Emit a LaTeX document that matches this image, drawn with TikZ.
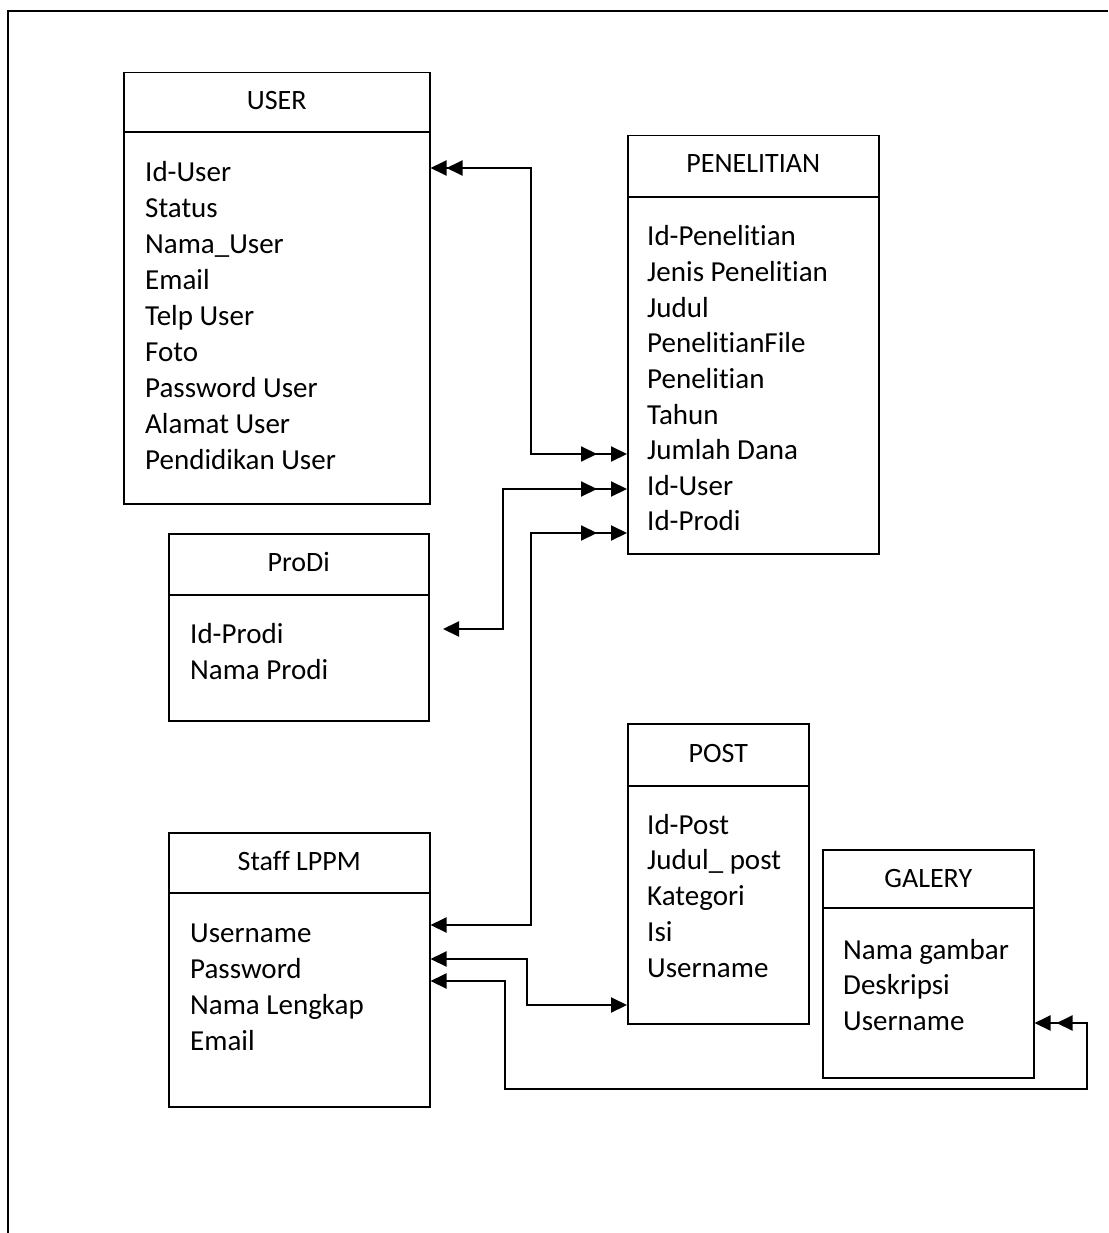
\documentclass[tikz,border=0pt]{standalone}
\usepackage{fontspec}
\setmainfont{Carlito}[Ligatures={NoCommon,NoContextual,NoRequired},Contextuals=NoAlternate]
\usetikzlibrary{arrows.meta,calc,decorations.markings}
\tikzset{ertip/.tip={Triangle[length=16pt,width=15pt]}}
\newcommand\nolig{\kern0pt\relax}
\begin{document}
\begin{tikzpicture}[x=1pt,y=-1pt,
 ent/.style={draw,line width=1.5pt,inner sep=0pt,anchor=north west},
 sep/.style={line width=1.5pt},
 ttl/.style={anchor=base,inner sep=0pt,font=\fontsize{28}{34}\selectfont},
 attr/.style={anchor=base west,inner sep=0pt,font=\fontsize{29}{36}\selectfont},
 conn/.style={line width=2pt}]
\useasboundingbox (0,0) rectangle (1108,1233);
\draw[line width=2pt] (1108,11) -- (8,11) -- (8,1233);

% USER
\node[ent,minimum width=306pt,minimum height=431pt] (user) at (123,72) {};
\draw[sep] ($(user.north west)+(0,60)$) -- ($(user.north east)+(0,60)$);
\node[ttl] (user-t) at ($(user.north)+(0,38)$) {USER};
\foreach \t [count=\i from 0] in {Id-User,Status,Nama\_User,Email,Telp User,Foto,Password User,Alamat User,Pendidikan User}
  \node[attr] (user-\i) at ($(user.north west)+(22,110+35.9*\i)$) {\t};

% PENELITIAN
\node[ent,minimum width=251pt,minimum height=418pt] (pen) at (627,135) {};
\draw[sep] ($(pen.north west)+(0,62)$) -- ($(pen.north east)+(0,62)$);
\node[ttl] (pen-t) at ($(pen.north)+(0,38)$) {PENELITIAN};
\foreach \t [count=\i from 0] in {Id-Peneli\nolig tian,Jenis Peneli\nolig tian,Judul,Peneli\nolig tianFile,Peneli\nolig tian,Tahun,Jumlah Dana,Id-User,Id-Prodi}
  \node[attr] (pen-\i) at ($(pen.north west)+(20,111+35.6*\i)$) {\t};

% ProDi
\node[ent,minimum width=260pt,minimum height=187pt] (prodi) at (168,533) {};
\draw[sep] ($(prodi.north west)+(0,62)$) -- ($(prodi.north east)+(0,62)$);
\node[ttl] (prodi-t) at ($(prodi.north)+(0,38)$) {ProDi};
\foreach \t [count=\i from 0] in {Id-Prodi,Nama Prodi}
  \node[attr] (prodi-\i) at ($(prodi.north west)+(22,110+36*\i)$) {\t};

% Staff LPPM
\node[ent,minimum width=261pt,minimum height=274pt] (staff) at (168,832) {};
\draw[sep] ($(staff.north west)+(0,61)$) -- ($(staff.north east)+(0,61)$);
\node[ttl] (staff-t) at ($(staff.north)+(0,38)$) {Staf\nolig f LPPM};
\foreach \t [count=\i from 0] in {Username,Password,Nama Lengkap,Email}
  \node[attr] (staff-\i) at ($(staff.north west)+(22,110+36*\i)$) {\t};

% POST
\node[ent,minimum width=181pt,minimum height=300pt] (post) at (627,723) {};
\draw[sep] ($(post.north west)+(0,63)$) -- ($(post.north east)+(0,63)$);
\node[ttl] (post-t) at ($(post.north)+(0,39)$) {POST};
\foreach \t [count=\i from 0] in {Id-Post,Judul\_ post,Kategori,Isi,Username}
  \node[attr] (post-\i) at ($(post.north west)+(20,111+35.75*\i)$) {\t};

% GALERY
\node[ent,minimum width=211pt,minimum height=228pt] (gal) at (822,849) {};
\draw[sep] ($(gal.north west)+(0,59)$) -- ($(gal.north east)+(0,59)$);
\node[ttl] (gal-t) at ($(gal.north)+(0,38)$) {GALERY};
\foreach \t [count=\i from 0] in {Nama gambar,Deskripsi,Username}
  \node[attr] (gal-\i) at ($(gal.north west)+(21,110+35.5*\i)$) {\t};

% connectors
\draw[conn,{ertip}-{ertip},postaction={decorate},
  decoration={markings,mark=at position 16pt with {\arrowreversed{ertip}},mark=at position -30pt with {\arrow{ertip}}}]
  ($(user.north east)+(0,96)$) -- (531,168) -- (531,454) -- ($(pen.north west)+(0,319)$);

\coordinate (pfree) at (443,629);
\draw[conn,{ertip}-{ertip},postaction={decorate},
  decoration={markings,mark=at position -30pt with {\arrow{ertip}}}]
  (pfree) -- (503,629) -- (503,489) -- ($(pen.north west)+(0,354)$);

\draw[conn,{ertip}-{ertip},postaction={decorate},
  decoration={markings,mark=at position -30pt with {\arrow{ertip}}}]
  ($(staff.north east)+(0,93)$) -- (531,925) -- (531,533) -- ($(pen.north west)+(0,398)$);

\draw[conn,{ertip}-{ertip}]
  ($(staff.north east)+(0,127)$) -- (527,959) -- (527,1005) -- ($(post.north west)+(0,282)$);

\draw[conn,{ertip}-{ertip},postaction={decorate},
  decoration={markings,mark=at position -22pt with {\arrow{ertip}}}]
  ($(staff.north east)+(0,149)$) -- (505,981) -- (505,1089) -- (1087,1089) -- (1087,1023) -- ($(gal.north east)+(0,174)$);
\end{tikzpicture}
\end{document}
